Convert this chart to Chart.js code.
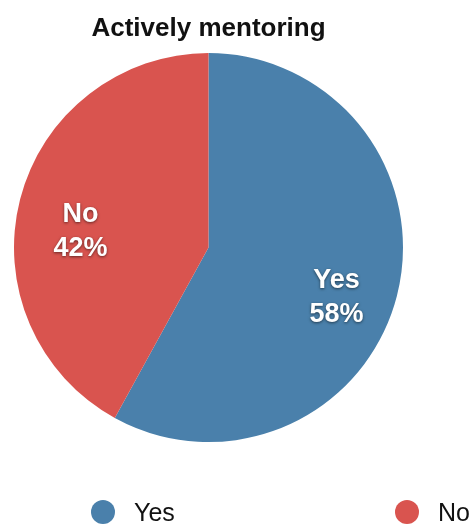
<!DOCTYPE html>
<html>
<head>
<meta charset="utf-8">
<script src="https://cdn.jsdelivr.net/npm/chart.js@4/dist/chart.umd.min.js"></script>
<style>
  html, body { margin: 0; padding: 0; background: #fff; }
  #wrap { width: 474px; height: 524px; }
</style>
</head>
<body>
<div id="wrap"><canvas id="pie"></canvas></div>
<script>
// survey answers
const labels = ['Yes', 'No'];
const shares = [58, 42];
const colors = ['#4a80ab', '#d9544f'];
const chartTitle = 'Actively mentoring';

const FONT = 'Helvetica, Arial, "Liberation Sans", sans-serif';

// white percentage labels inside each slice
const sliceLabels = {
    id: 'sliceLabels',
    afterDatasetsDraw(chart) {
        const ctx = chart.ctx;
        const arcs = chart.getDatasetMeta(0).data;
        ctx.save();
        ctx.font = 'bold 27px ' + FONT;
        ctx.fillStyle = '#fff';
        ctx.textAlign = 'center';
        ctx.textBaseline = 'middle';
        ctx.shadowColor = 'rgba(0,0,0,0.55)';
        ctx.shadowBlur = 3;
        ctx.shadowOffsetY = 1;
        arcs.forEach((arc, i) => {
            const mid = (arc.startAngle + arc.endAngle) / 2;
            const d = arc.outerRadius * 0.68;
            const x = arc.x + Math.cos(mid) * d;
            const y = arc.y + Math.sin(mid) * d + 17;
            ctx.fillText(labels[i], x, y - 17);
            ctx.fillText(shares[i] + '%', x, y + 17);
        });
        ctx.restore();
    }
};

// legend spread along the bottom edge
const bottomLegend = {
    id: 'bottomLegend',
    afterDraw(chart) {
        const ctx = chart.ctx;
        const spots = [103, 407];
        ctx.save();
        ctx.font = '25px ' + FONT;
        ctx.textBaseline = 'middle';
        labels.forEach((lab, i) => {
            ctx.beginPath();
            ctx.arc(spots[i], 512, 12, 0, Math.PI * 2);
            ctx.fillStyle = colors[i];
            ctx.fill();
            ctx.fillStyle = '#111';
            ctx.fillText(lab, spots[i] + 31, 514);
        });
        ctx.restore();
    }
};

new Chart(document.getElementById('pie'), {
    type: 'pie',
    data: {
        labels: labels,
        datasets: [{
            data: shares,
            backgroundColor: colors,
            borderWidth: 0
        }]
    },
    options: {
        responsive: true,
        maintainAspectRatio: false,
        animation: false,
        layout: { padding: { left: 14, right: 71, top: 0, bottom: 81 } },
        plugins: {
            legend: { display: false },
            tooltip: { enabled: false },
            title: {
                display: true,
                text: chartTitle,
                color: '#111',
                font: { family: FONT, size: 26, weight: 'bold' },
                padding: { top: 13, bottom: 8 }
            }
        }
    },
    plugins: [sliceLabels, bottomLegend]
});
</script>
</body>
</html>
